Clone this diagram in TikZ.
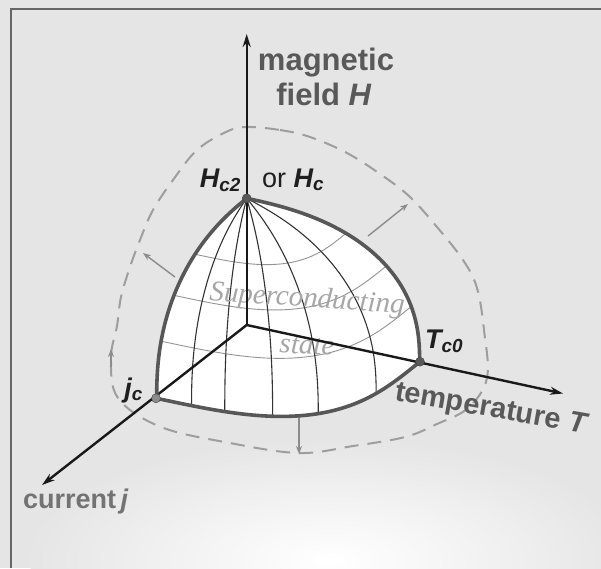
\documentclass[tikz,border=0pt]{standalone}
\usepackage{fontspec}
\setmainfont{Liberation Sans}
\newfontfamily\stateserif{Liberation Serif}
\usetikzlibrary{arrows.meta}

\begin{document}
\begin{tikzpicture}[
  x=1pt, y=-1pt,
  declare function={
    cv(\angA)=pow(max(cos(\angA),0.0001),0.8);
    sv(\angA)=pow(max(sin(\angA),0.0001),0.8);
    cb(\angA)=pow(max(cos(\angA),0.0001),0.6);
    sb(\angA)=pow(max(sin(\angA),0.0001),0.6);
    domex(\angA,\angB)=246.7+cv(\angB)*(173.3*sb(\angA)-90.7*cb(\angA));
    domey(\angA,\angB)=325+cv(\angB)*(73.3*cb(\angA)+36.7*sb(\angA))-126.7*sv(\angB);
  },
  axis/.style={line width=2.4pt, draw=black!90, -{Stealth[length=13pt, width=8pt]}},
  domeline/.style={line width=3.6pt, draw=black!66},
  meridian/.style={line width=1.1pt, draw=black!80},
  latitude/.style={line width=0.9pt, draw=black!42},
  envelope/.style={line width=2pt, draw=black!38, dash pattern=on 14pt off 9pt},
  growth/.style={line width=1.4pt, draw=black!45, -{Stealth[length=8pt, width=6pt]}},
  critdot/.style={circle, fill=black!65, draw=black!75, inner sep=0pt, minimum size=9pt},
  axislabel/.style={font=\fontsize{31}{34}\selectfont\bfseries, text=black!65, inner sep=0pt},
  critlabel/.style={font=\fontsize{27}{30}\selectfont\bfseries\itshape, text=black!88, inner sep=0pt},
  statelabel/.style={font=\stateserif\fontsize{29}{31}\selectfont\itshape, text=black!35, inner sep=0pt},
]
\useasboundingbox (0,0) rectangle (601,568);

% Background and frame
\fill[black!10] (0,0) rectangle (601,568);
\shade[inner color=white, outer color=black!10] (330,560) ellipse (300 and 120);
\draw[black!60, line width=1.5pt] (11,568) -- (11,9) -- (601,9);

% Dashed envelope of the normal state
\draw[envelope] plot[smooth cycle, tension=0.6] coordinates {
  (246,127) (280,130) (310,137) (347,153) (383,176) (410,197) (437,227)
  (463,260) (477,288) (484,330) (487,378) (468,408) (437,424) (405,437)
  (353,446) (299,453) (230,443) (161,427) (118,398) (111,358) (117,326)
  (121,297) (130,267) (140,240) (153,210) (173,180) (197,150) (226,132)};

% Growth arrows
\coordinate (gL0) at (175,277); \coordinate (gL1) at (143,253);
\coordinate (gR0) at (368,236); \coordinate (gR1) at (408,204);
\coordinate (gB0) at (299,416); \coordinate (gB1) at (299,454);
\coordinate (gS0) at (111,367); \coordinate (gS1) at (111,349);
\draw[growth] (gL0) -- (gL1);
\draw[growth] (gR0) -- (gR1);
\draw[growth] (gB0) -- (gB1);
\draw[growth] (gS0) -- (gS1);

% Dome
\fill[white] plot[domain=0:90, samples=40] ({domex(0,\x)},{domey(0,\x)})
  -- plot[domain=90:0, samples=40] ({domex(90,\x)},{domey(90,\x)})
  -- plot[domain=90:0, samples=40] ({domex(\x,0)},{domey(\x,0)}) -- cycle;

\foreach \lat in {20,40,60}
  \draw[latitude] plot[domain=0:90, samples=40] ({domex(\x,\lat)},{domey(\x,\lat)});
\foreach \mer in {4,12,28,47,75}
  \draw[meridian] plot[domain=0:90, samples=40] ({domex(\mer,\x)},{domey(\mer,\x)});

\node[statelabel, rotate=-4] (supercond) at (307,300) {Superconducting};
\node[statelabel, rotate=-3] (state) at (307,346) {state};

% Axes
\coordinate (O) at (246.7,325);
\coordinate (Htip) at (246.7,34);
\coordinate (Ttip) at (563,393.5);
\coordinate (Jtip) at (42,485);
\draw[axis] (O) -- (Htip);
\draw[axis] (O) -- (Ttip);
\draw[axis] (O) -- (Jtip);

% Outline
\draw[domeline] plot[domain=0:90, samples=40] ({domex(0,\x)},{domey(0,\x)})
  -- plot[domain=90:0, samples=40] ({domex(90,\x)},{domey(90,\x)})
  -- plot[domain=90:0, samples=40] ({domex(\x,0)},{domey(\x,0)}) -- cycle;

\node[critdot] (Hc2) at (246.7,198.3) {};
\node[critdot] (Tc0) at (420,361.7) {};
\node[critdot, fill=black!45] (jc) at (156,398.3) {};

% Labels
\node[axislabel, anchor=base] (magnetic) at (326,70) {magnetic};
\node[axislabel, anchor=base] (field) at (324,105) {field \textit{H}};
\node[critlabel, anchor=base east] (lblHc2) at (241,187) {H\textsubscript{c2}};
\node[critlabel, anchor=base west] (lblHc) at (262,187) {{\upshape\mdseries or} H\textsubscript{c}};
\node[critlabel, anchor=base west] (lblTc0) at (425,348) {T\textsubscript{c0}};
\node[critlabel, anchor=base east] (lbljc) at (143,397) {j\textsubscript{c}};
\node[axislabel, anchor=base west, text=black!55, font=\fontsize{27}{30}\selectfont\bfseries] (current) at (23,508) {current\,\textit{j}};
\node[axislabel, anchor=base west, rotate=-10, font=\fontsize{29}{32}\selectfont\bfseries] (temperature) at (394,400) {temperature \textit{T}};

\end{tikzpicture}
\end{document}
